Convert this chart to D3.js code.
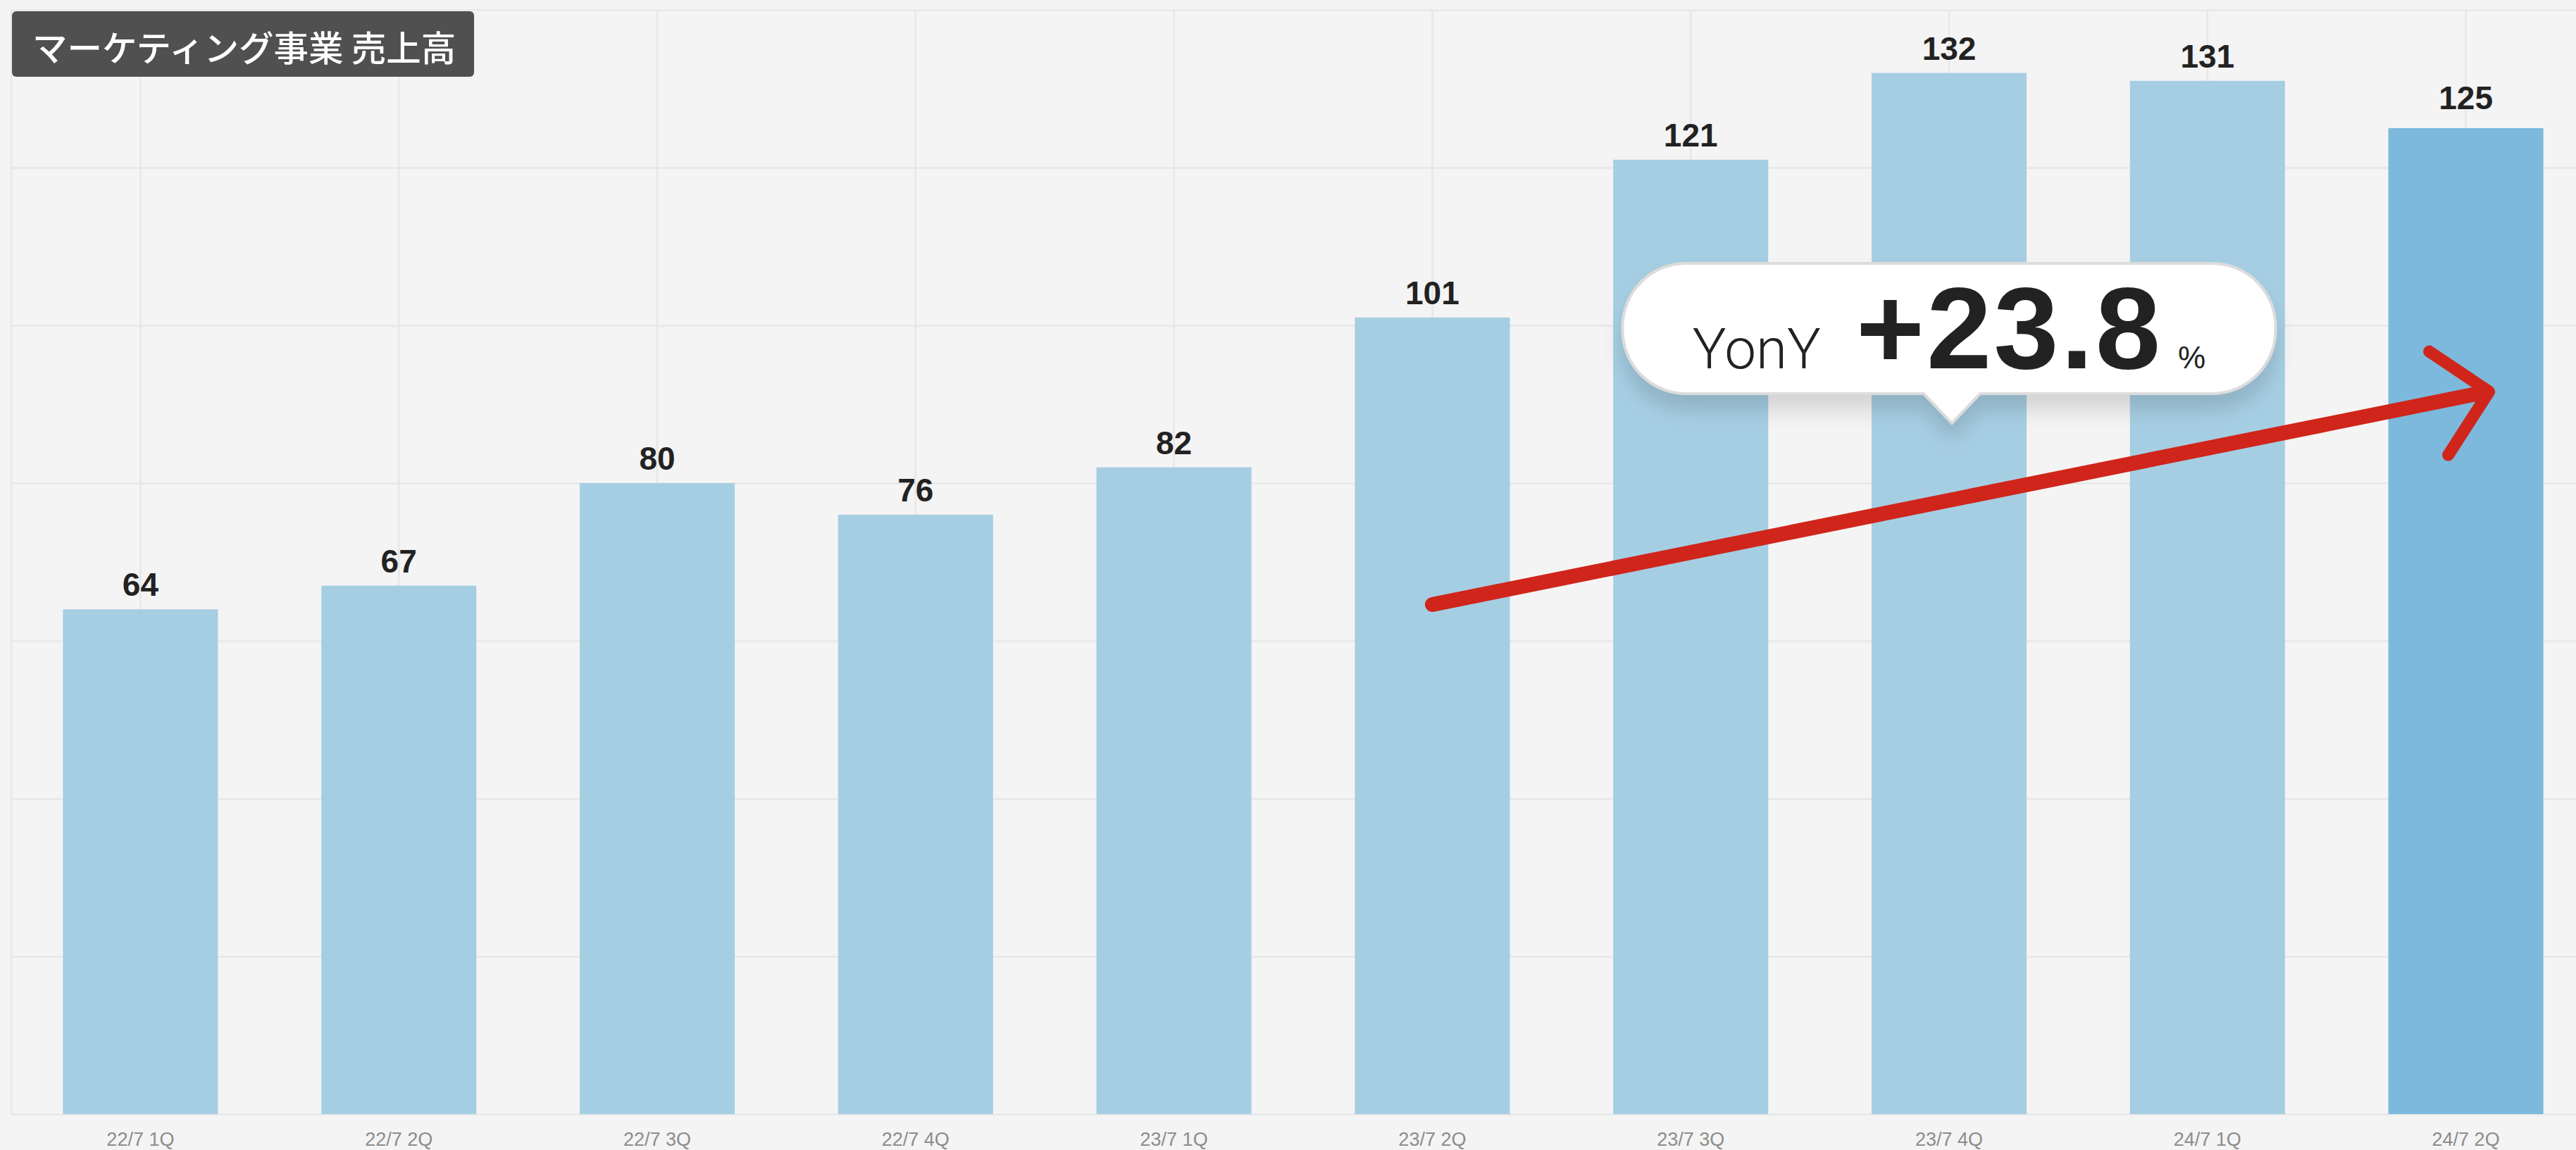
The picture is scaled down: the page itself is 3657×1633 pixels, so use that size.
<!DOCTYPE html>
<html>
<head>
<meta charset="utf-8">
<script src="https://cdn.jsdelivr.net/npm/d3@7"></script>
<style>
  html, body { margin: 0; padding: 0; background: #f4f4f4; overflow: hidden; }
  svg { display: block; }
</style>
</head>
<body>
<div id="chart"></div>
<script>
// ---- data ----
const categories = ["22/7 1Q", "22/7 2Q", "22/7 3Q", "22/7 4Q", "23/7 1Q", "23/7 2Q", "23/7 3Q", "23/7 4Q", "24/7 1Q", "24/7 2Q"];
const sales = [64, 67, 80, 76, 82, 101, 121, 132, 131, 125];
const yTicks = [0, 20, 40, 60, 80, 100, 120, 140];
const highlightCategory = "24/7 2Q";
const titleText = "マーケティング事業 売上高";
const calloutLabel = "YonY";
const calloutValue = "+23.8";
const calloutUnit = "%";
const calloutCategory = "23/7 4Q";
const calloutTipValue = 87.6;
const arrowFrom = ["23/7 2Q", 64.6];
const arrowTo = ["24/7 2Q", 91.6];

// ---- layout ----
const W = 3657, H = 1633;
const plotLeft = 16, plotRight = 3684, plotTop = 14, plotBottom = 1582;

const svg = d3.select("#chart").append("svg")
  .attr("width", W).attr("height", H)
  .style("background", "#f4f4f4");

const defs = svg.append("defs");
const f = defs.append("filter").attr("id", "shadow")
  .attr("x", "-20%").attr("y", "-30%").attr("width", "140%").attr("height", "180%");
f.append("feDropShadow").attr("dx", 0).attr("dy", 22).attr("stdDeviation", 14)
  .attr("flood-color", "#000").attr("flood-opacity", 0.13);

const x = d3.scaleBand().domain(categories).range([plotLeft, plotRight])
  .paddingInner(0.4).paddingOuter(0.2);
const y = d3.scaleLinear().domain([0, 140]).range([plotBottom, plotTop]);
const cx = c => x(c) + x.bandwidth() / 2;

// horizontal grid via axis
const gy = svg.append("g").attr("transform", `translate(${plotLeft},0)`)
  .call(d3.axisLeft(y).tickValues(yTicks).tickSize(-(plotRight - plotLeft)).tickFormat(""));
gy.select(".domain").remove();
gy.selectAll(".tick line").attr("stroke", "#e7e7e7").attr("stroke-width", 2.5);

// vertical grid at category centers
svg.append("g").selectAll("line").data(categories).join("line")
  .attr("x1", d => cx(d)).attr("x2", d => cx(d))
  .attr("y1", plotTop).attr("y2", plotBottom)
  .attr("stroke", "#e7e7e7").attr("stroke-width", 2.5);
// left border
svg.append("line").attr("x1", plotLeft).attr("x2", plotLeft)
  .attr("y1", plotTop).attr("y2", plotBottom)
  .attr("stroke", "#e7e7e7").attr("stroke-width", 2.5);

// bars
svg.append("g").selectAll("rect").data(categories).join("rect")
  .attr("x", d => x(d))
  .attr("y", (d, i) => y(sales[i]))
  .attr("width", x.bandwidth())
  .attr("height", (d, i) => y(0) - y(sales[i]))
  .attr("fill", d => d === highlightCategory ? "#7db9dc" : "#a6cee3");

// value labels
svg.append("g").selectAll("text").data(categories).join("text")
  .attr("x", d => cx(d))
  .attr("y", (d, i) => y(sales[i]) - (d === highlightCategory ? 27 : 19))
  .attr("text-anchor", "middle")
  .attr("font-family", "'Liberation Sans', Arial, sans-serif")
  .attr("font-weight", "bold")
  .attr("font-size", 46)
  .attr("fill", "#222")
  .text((d, i) => sales[i]);

// x axis labels
const gx = svg.append("g").attr("transform", `translate(0,${plotBottom})`)
  .call(d3.axisBottom(x).tickSize(0).tickPadding(0));
gx.select(".domain").remove();
gx.selectAll(".tick text")
  .attr("y", 45).attr("dy", 0)
  .attr("font-family", "'Liberation Sans', Arial, sans-serif")
  .attr("font-size", 27)
  .attr("fill", "#8c8c8c");

// title box
svg.append("rect").attr("x", 17).attr("y", 16).attr("width", 656).attr("height", 93)
  .attr("rx", 6).attr("fill", "#505050");
svg.append("text").attr("x", 46).attr("y", 65)
  .attr("dominant-baseline", "central")
  .attr("font-family", "'Noto Sans CJK JP', sans-serif")
  .attr("font-weight", 500)
  .attr("font-size", 49.5)
  .attr("fill", "#fff")
  .text(titleText);

// callout bubble
const tipX = cx(calloutCategory) + 4, tipY = y(calloutTipValue);
const bw = 927, bh = 185, ph = 42, pw = 40, r = 90;
const bx0 = cx(calloutCategory) - bw / 2, bx1 = bx0 + bw;
const by1 = tipY - ph, by0 = by1 - bh;
const bubblePath = `M${bx0 + r},${by0} H${bx1 - r} A${r},${r} 0 0 1 ${bx1},${by0 + r} V${by1 - r} A${r},${r} 0 0 1 ${bx1 - r},${by1}`
  + ` H${tipX + pw} L${tipX},${tipY} L${tipX - pw},${by1} H${bx0 + r} A${r},${r} 0 0 1 ${bx0},${by1 - r} V${by0 + r} A${r},${r} 0 0 1 ${bx0 + r},${by0} Z`;
svg.append("path").attr("d", bubblePath)
  .attr("fill", "#fff").attr("stroke", "#dcdcdc").attr("stroke-width", 4)
  .attr("filter", "url(#shadow)");

const ct = svg.append("text")
  .attr("x", cx(calloutCategory)).attr("y", by0 + 149)
  .attr("text-anchor", "middle")
  .attr("fill", "#222");
ct.append("tspan").text(calloutLabel)
  .attr("font-family", "Roboto, 'Liberation Sans', sans-serif")
  .attr("font-weight", 300).attr("font-size", 80);
ct.append("tspan").text(calloutValue).attr("dx", 50)
  .attr("font-family", "'Liberation Sans', Arial, sans-serif")
  .attr("font-weight", "bold").attr("font-size", 166).attr("letter-spacing", 3);
ct.append("tspan").text(calloutUnit).attr("dx", 22)
  .attr("font-family", "'Liberation Sans', Arial, sans-serif")
  .attr("font-size", 44);

// red arrow
const ax0 = cx(arrowFrom[0]), ay0 = y(arrowFrom[1]);
const ax1 = cx(arrowTo[0]) + 0.09 * x.step(), ay1 = y(arrowTo[1]);
svg.append("line")
  .attr("x1", ax0).attr("y1", ay0).attr("x2", ax1 - 6).attr("y2", ay1 + 1)
  .attr("stroke", "#d0251b").attr("stroke-width", 21).attr("stroke-linecap", "round");
svg.append("path")
  .attr("d", `M${ax1 - 85},${ay1 - 57} L${ax1},${ay1} L${ax1 - 58},${ay1 + 90}`)
  .attr("fill", "none")
  .attr("stroke", "#d0251b").attr("stroke-width", 17)
  .attr("stroke-linecap", "round").attr("stroke-linejoin", "round");
</script>
</body>
</html>
